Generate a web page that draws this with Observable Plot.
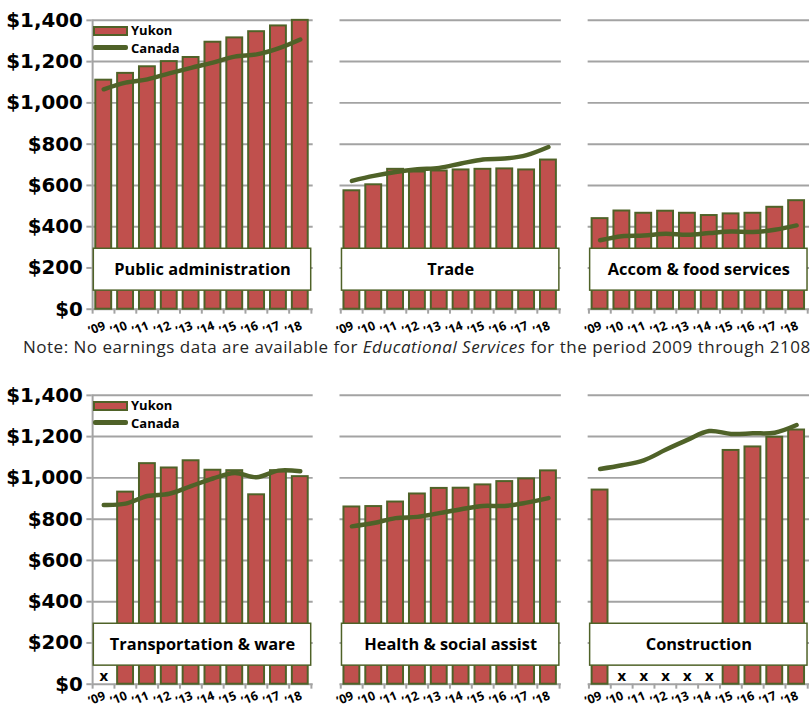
<!DOCTYPE html>
<html>
<head>
<meta charset="utf-8">
<script src="https://cdn.jsdelivr.net/npm/d3@7"></script>
<script src="https://cdn.jsdelivr.net/npm/@observablehq/plot@0.6"></script>
<style>
  html, body { margin: 0; padding: 0; background: #fff; overflow: hidden; }
  #wrap { position: relative; width: 811px; height: 711px; overflow: hidden; background: #fff; }
  .chart { position: absolute; left: 0; }
  #note { position: absolute; left: 23px; top: 336px; white-space: nowrap;
          font-family: "Open Sans", sans-serif; font-size: 17px; color: #262626; line-height: 22px; letter-spacing: 0.5px; }
  .legend { position: absolute; left: 93px; width: 140px; height: 36px;
            font-family: "Open Sans", sans-serif; font-weight: bold; font-size: 13px; color: #000; }
  .legend .sw { position: absolute; left: 0; width: 31px; height: 6px; background: #c0504d; border: 2px solid #4f6228; }
  .legend .ln { position: absolute; left: 0; width: 35px; height: 5px; background: #4f6228; border-radius: 2px; }
  .legend .lb { position: absolute; left: 38px; line-height: 16px; }
</style>
</head>
<body>
<div id="wrap"></div>
<script>
// ---- data ----
const years = ["’09", "’10", "’11", "’12", "’13", "’14", "’15", "’16", "’17", "’18"];
const yTicks = [0, 200, 400, 600, 800, 1000, 1200, 1400];

const topPanels = ["Public administration", "Trade", "Accom & food services"];
const bottomPanels = ["Transportation & ware", "Health & social assist", "Construction"];

const yukonPublicAdmin = [1110, 1143, 1175, 1200, 1220, 1294, 1315, 1345, 1373, 1400];
const canadaPublicAdmin = [1066, 1098, 1114, 1143, 1170, 1195, 1224, 1235, 1264, 1307];
const yukonTrade = [574, 603, 678, 665, 670, 675, 678, 680, 675, 723];
const canadaTrade = [622, 646, 665, 678, 685, 706, 726, 730, 747, 786];
const yukonAccom = [439, 476, 465, 475, 465, 454, 462, 465, 494, 526];
const canadaAccom = [334, 354, 357, 366, 361, 369, 377, 374, 385, 406];

const yukonTransport = [null, 931, 1069, 1048, 1083, 1037, 1035, 918, 1035, 1006];
const canadaTransport = [869, 875, 912, 923, 960, 997, 1024, 1003, 1035, 1032];
const yukonHealth = [859, 861, 883, 922, 949, 950, 966, 982, 995, 1034];
const canadaHealth = [765, 781, 805, 811, 829, 848, 864, 864, 880, 902];
const yukonConstruction = [941, null, null, null, null, null, 1133, 1150, 1197, 1232];
const canadaConstruction = [1043, 1061, 1085, 1136, 1184, 1227, 1213, 1216, 1219, 1256];

const legendLabels = ["Yukon", "Canada"];
const noteText = ["Note: No earnings data are available for ", "Educational Services", " for the period 2009 through 2108"];

// ---- build tables ----
function table(panels, yukon, canada) {
  const rows = [];
  panels.forEach((p, i) => years.forEach((yr, j) => rows.push({panel: p, year: yr, yukon: yukon[i][j], canada: canada[i][j]})));
  return rows;
}
const topRows = table(topPanels, [yukonPublicAdmin, yukonTrade, yukonAccom], [canadaPublicAdmin, canadaTrade, canadaAccom]);
const bottomRows = table(bottomPanels, [yukonTransport, yukonHealth, yukonConstruction], [canadaTransport, canadaHealth, canadaConstruction]);

const RED = "#c0504d", GREEN = "#4f6228", GRID = "#a3a3a3";
const xPadIn = 0.27, xPadOut = 0.135;
const fmt = d3.format(",");

function makeRow(panels, rows, labelDy) {
  const width = 817, marginLeft = 91, marginRight = 0;
  const fxPadIn = 0.107;
  const panelW = (width - marginLeft - marginRight) / (3 - fxPadIn) * (1 - fxPadIn);
  const step = panelW / (10 - xPadIn + 2 * xPadOut);
  const half = step / 2;
  return Plot.plot({
    width, height: 342, marginLeft, marginRight, marginTop: 20, marginBottom: 31,
    style: {fontFamily: "Open Sans, sans-serif", background: "transparent", overflow: "visible"},
    fx: {domain: panels, axis: null, paddingInner: fxPadIn, paddingOuter: 0},
    x: {domain: years, paddingInner: xPadIn, paddingOuter: xPadOut, label: null, axis: null},
    y: {domain: [0, 1400], label: null},
    marks: [
      Plot.gridY(yTicks, {stroke: GRID, strokeOpacity: 1, strokeWidth: 2}),
      Plot.ruleX([panels[0]], {fx: d => d, x: () => years[0], dx: -half, y1: () => 0, y2: () => 1400, stroke: GRID, strokeWidth: 2}),
      Plot.ruleX(years, {x: d => d, dx: -half, y1: () => 0, y2: () => -24, stroke: GRID, strokeWidth: 2}),
      Plot.ruleX([years[9]], {x: d => d, dx: half, y1: () => 0, y2: () => -24, stroke: GRID, strokeWidth: 2}),
      Plot.axisY({ticks: yTicks, tickFormat: d => "$" + fmt(d), tickSize: 5, tickPadding: 4, stroke: GRID, strokeWidth: 2,
                  fill: "#000", fontSize: 20, fontWeight: "bold", fontFamily: "DejaVu Sans, sans-serif"}),
      Plot.text(years, {x: d => d, text: d => d, frameAnchor: "bottom", dy: labelDy, dx: 1, rotate: -22,
                        textAnchor: "end", lineAnchor: "middle", fontSize: 12.5, fontWeight: "bold", fill: "#000"}),
      Plot.barY(rows, {fx: "panel", x: "year", y: "yukon", fill: RED, stroke: GREEN, strokeWidth: 2}),
      Plot.lineY(rows, {fx: "panel", x: "year", y: "canada", stroke: GREEN, strokeWidth: 4.5, curve: "catmull-rom"}),
      Plot.rect(panels, {fx: d => d, y1: () => 90, y2: () => 293, insetLeft: 2, insetRight: 2, fill: "#fff", stroke: GREEN, strokeWidth: 1.5}),
      Plot.text(panels, {fx: d => d, text: d => d, y: () => 192, fontSize: 16.5, fontWeight: "bold", fill: "#000"}),
      Plot.text(rows.filter(d => d.yukon == null), {fx: "panel", x: "year", text: () => "x", frameAnchor: "bottom", dy: -3,
                fontSize: 15, fontWeight: "bold", fill: "#000"})
    ]
  });
}

const wrap = document.getElementById("wrap");
const top1 = makeRow(topPanels, topRows, 16);
top1.classList.add("chart"); top1.style.top = "0px";
wrap.appendChild(top1);
const bot = makeRow(bottomPanels, bottomRows, 11);
bot.classList.add("chart"); bot.style.top = "375px";
wrap.appendChild(bot);

const note = document.createElement("div");
note.id = "note";
note.innerHTML = noteText[0] + "<i>" + noteText[1] + "</i>" + noteText[2];
wrap.appendChild(note);

function legend(top) {
  const lg = document.createElement("div");
  lg.className = "legend";
  lg.style.top = top + "px";
  lg.innerHTML = `<div class="sw" style="top:0px"></div><div class="lb" style="top:-4px">${legendLabels[0]}</div>
                  <div class="ln" style="top:19px"></div><div class="lb" style="top:14px">${legendLabels[1]}</div>`;
  wrap.appendChild(lg);
}
legend(26);
legend(401);
</script>
</body>
</html>
